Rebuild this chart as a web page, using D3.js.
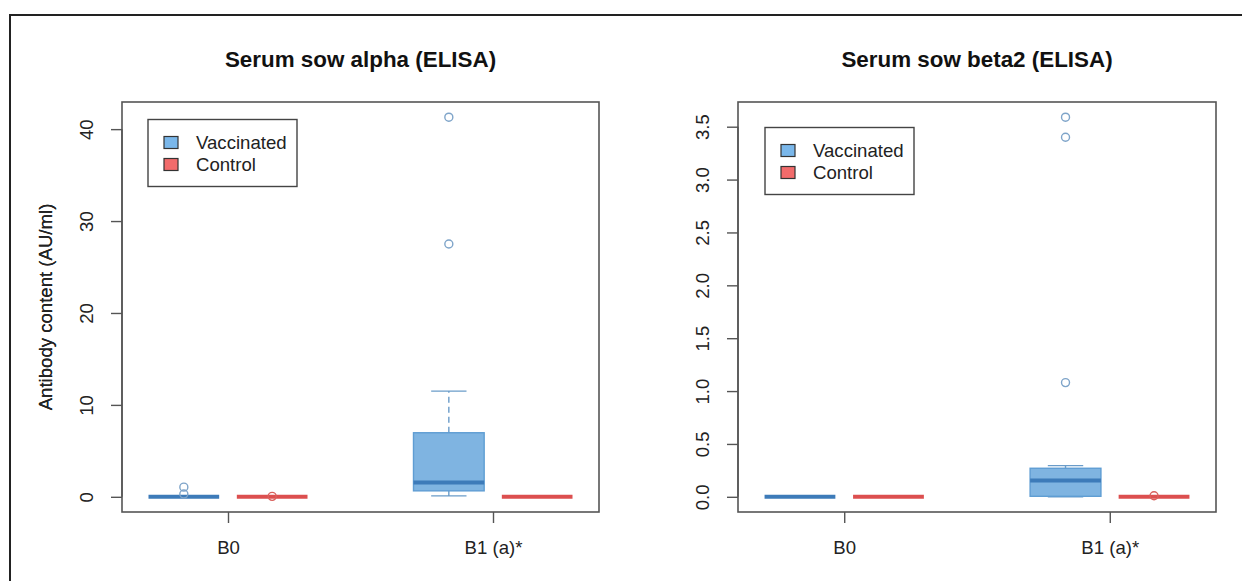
<!DOCTYPE html>
<html>
<head>
<meta charset="utf-8">
<script src="https://cdn.jsdelivr.net/npm/d3@7"></script>
<style>
  body { margin: 0; background: #fff; }
  svg { display: block; font-family: "Liberation Sans", Arial, sans-serif; }
</style>
</head>
<body>
<svg id="chart" width="1242" height="581"></svg>
<script>
// categories and series
const groups = ["B0", "B1 (a)*"];
const seriesNames = ["Vaccinated", "Control"];

// five-number summaries per group: [lower whisker, Q1, median, Q3, upper whisker]
const alphaVaccinated = [[0, 0, 0, 0, 0], [0.1, 0.65, 1.55, 6.97, 11.5]];
const alphaVaccinatedOut = [[1.05, 0.3], [27.5, 41.3]];
const alphaControl = [[0, 0, 0, 0, 0], [0, 0, 0, 0, 0]];
const alphaControlOut = [[0.05], []];
const alphaTicks = [0, 10, 20, 30, 40];

const betaVaccinated = [[0, 0, 0, 0, 0], [0, 0.005, 0.155, 0.27, 0.295]];
const betaVaccinatedOut = [[], [1.08, 3.4, 3.59]];
const betaControl = [[0, 0, 0, 0, 0], [0, 0, 0, 0, 0]];
const betaControlOut = [[], [0.01]];
const betaTicks = [0, 0.5, 1.0, 1.5, 2.0, 2.5, 3.0, 3.5];

const styles = [
  { fill: "#7fb4e1", border: "#5f9dd3", median: "#3d7bb9", whisker: "#6a9cc9", point: "#7ea4c9", swatch: "#7ab7ea" },
  { fill: "#f08080", border: "#dd5555", median: "#dc4f4f", whisker: "#dd5555", point: "#d9605c", swatch: "#f26b6b" }
];

const fontSize = "18.6px";
const svg = d3.select("#chart");

// outer frame of the figure
svg.append("path")
  .attr("d", "M10,581V15H1242")
  .attr("fill", "none")
  .attr("stroke", "#222")
  .attr("stroke-width", 2);

function drawPanel(p) {
  const g = svg.append("g");
  const series = [p.vacc, p.ctrl];
  const outs = [p.vaccOut, p.ctrlOut];

  // x positions like R boxplot at = 1,2,4,5
  const x = d3.scaleLinear().domain([0.3, 5.7]).range([p.left, p.right]);
  const pos = (gi, si) => gi * 3 + si + 1;

  const all = series.flat(2).concat(outs.flat(2));
  const lo = d3.min(all), hi = d3.max(all);
  const pad = (hi - lo) * 0.04;
  const y = d3.scaleLinear().domain([lo - pad, hi + pad]).range([p.bottom, p.top]);

  // title
  svg.append("text")
    .attr("x", (p.left + p.right) / 2)
    .attr("y", 67)
    .attr("text-anchor", "middle")
    .style("font-size", "22.4px")
    .style("font-weight", "bold")
    .attr("fill", "#111")
    .text(p.title);

  // y axis
  const yAxis = g.append("g")
    .attr("transform", `translate(${p.left},0)`)
    .call(d3.axisLeft(y).tickValues(p.ticks).tickSize(11).tickPadding(0)
      .tickFormat(p.fmt));
  yAxis.select(".domain").remove();
  yAxis.selectAll(".tick line").attr("stroke", "#555").attr("stroke-width", 1.4);
  yAxis.selectAll(".tick text")
    .attr("x", null).attr("dy", null)
    .attr("transform", "translate(-29,0) rotate(-90)")
    .attr("text-anchor", "middle")
    .attr("fill", "#222")
    .style("font-size", fontSize);
  yAxis.append("line")
    .attr("y1", y(d3.min(p.ticks))).attr("y2", y(d3.max(p.ticks)))
    .attr("stroke", "#555").attr("stroke-width", 1.4);

  svg.append("text")
    .attr("transform", `translate(52,${(p.top + p.bottom) / 2}) rotate(-90)`)
    .attr("text-anchor", "middle")
    .style("font-size", fontSize)
    .attr("fill", "#222")
    .text("Antibody content (AU/ml)");

  // x axis
  const xAxis = g.append("g")
    .attr("transform", `translate(0,${p.bottom})`)
    .call(d3.axisBottom(x).tickValues([1.5, 4.5]).tickSize(11).tickPadding(0)
      .tickFormat((d, i) => groups[i]));
  xAxis.select(".domain").remove();
  xAxis.selectAll(".tick line").attr("stroke", "#555").attr("stroke-width", 1.4);
  xAxis.selectAll(".tick text")
    .attr("y", 42).attr("dy", null)
    .attr("fill", "#222")
    .style("font-size", fontSize);

  // boxes
  const bw = (x(1.4) - x(1));
  groups.forEach((gname, gi) => {
    series.forEach((s, si) => {
      const st = styles[si];
      const [wl, q1, md, q3, wh] = s[gi];
      const cx = x(pos(gi, si));
      const bg = g.append("g");
      // whiskers
      bg.append("line")
        .attr("x1", cx).attr("x2", cx).attr("y1", y(q3)).attr("y2", y(wh))
        .attr("stroke", st.whisker).attr("stroke-width", 1.4).attr("stroke-dasharray", "6,4");
      bg.append("line")
        .attr("x1", cx).attr("x2", cx).attr("y1", y(q1)).attr("y2", y(wl))
        .attr("stroke", st.whisker).attr("stroke-width", 1.4).attr("stroke-dasharray", "6,4");
      [wl, wh].forEach(v => {
        bg.append("line")
          .attr("x1", cx - bw / 2).attr("x2", cx + bw / 2).attr("y1", y(v)).attr("y2", y(v))
          .attr("stroke", st.whisker).attr("stroke-width", 1.4);
      });
      bg.append("rect")
        .attr("x", cx - bw).attr("width", bw * 2)
        .attr("y", y(q3)).attr("height", y(q1) - y(q3))
        .attr("fill", st.fill).attr("stroke", st.border).attr("stroke-width", 1.4);
      bg.append("line")
        .attr("x1", cx - bw).attr("x2", cx + bw).attr("y1", y(md)).attr("y2", y(md))
        .attr("stroke", st.median).attr("stroke-width", 4);
      // outliers
      bg.selectAll("circle")
        .data(outs[si][gi])
        .join("circle")
        .attr("cx", cx).attr("cy", d => y(d)).attr("r", 4)
        .attr("fill", "none").attr("stroke", st.point).attr("stroke-width", 1.4);
    });
  });

  // plot frame
  g.append("rect")
    .attr("x", p.left).attr("y", p.top)
    .attr("width", p.right - p.left).attr("height", p.bottom - p.top)
    .attr("fill", "none").attr("stroke", "#555").attr("stroke-width", 1.6);

  // legend
  const lg = g.append("g").attr("transform", `translate(${p.legX},${p.legY})`);
  lg.append("rect").attr("width", 149).attr("height", 67)
    .attr("fill", "#fff").attr("stroke", "#444").attr("stroke-width", 1.4);
  seriesNames.forEach((name, i) => {
    lg.append("rect")
      .attr("x", 16).attr("y", 17 + i * 22).attr("width", 14).attr("height", 12)
      .attr("fill", styles[i].swatch).attr("stroke", "#333").attr("stroke-width", 1.2);
    lg.append("text")
      .attr("x", 48).attr("y", 29.5 + i * 22)
      .style("font-size", fontSize).attr("fill", "#222")
      .text(name);
  });
}

drawPanel({
  title: "Serum sow alpha (ELISA)",
  vacc: alphaVaccinated, vaccOut: alphaVaccinatedOut,
  ctrl: alphaControl, ctrlOut: alphaControlOut,
  ticks: alphaTicks, fmt: d3.format("d"),
  left: 122, right: 599, top: 102, bottom: 512,
  legX: 148, legY: 119.5
});

drawPanel({
  title: "Serum sow beta2 (ELISA)",
  vacc: betaVaccinated, vaccOut: betaVaccinatedOut,
  ctrl: betaControl, ctrlOut: betaControlOut,
  ticks: betaTicks, fmt: d3.format(".1f"),
  left: 738, right: 1216, top: 102, bottom: 512,
  legX: 765, legY: 127.5
});
</script>
</body>
</html>
